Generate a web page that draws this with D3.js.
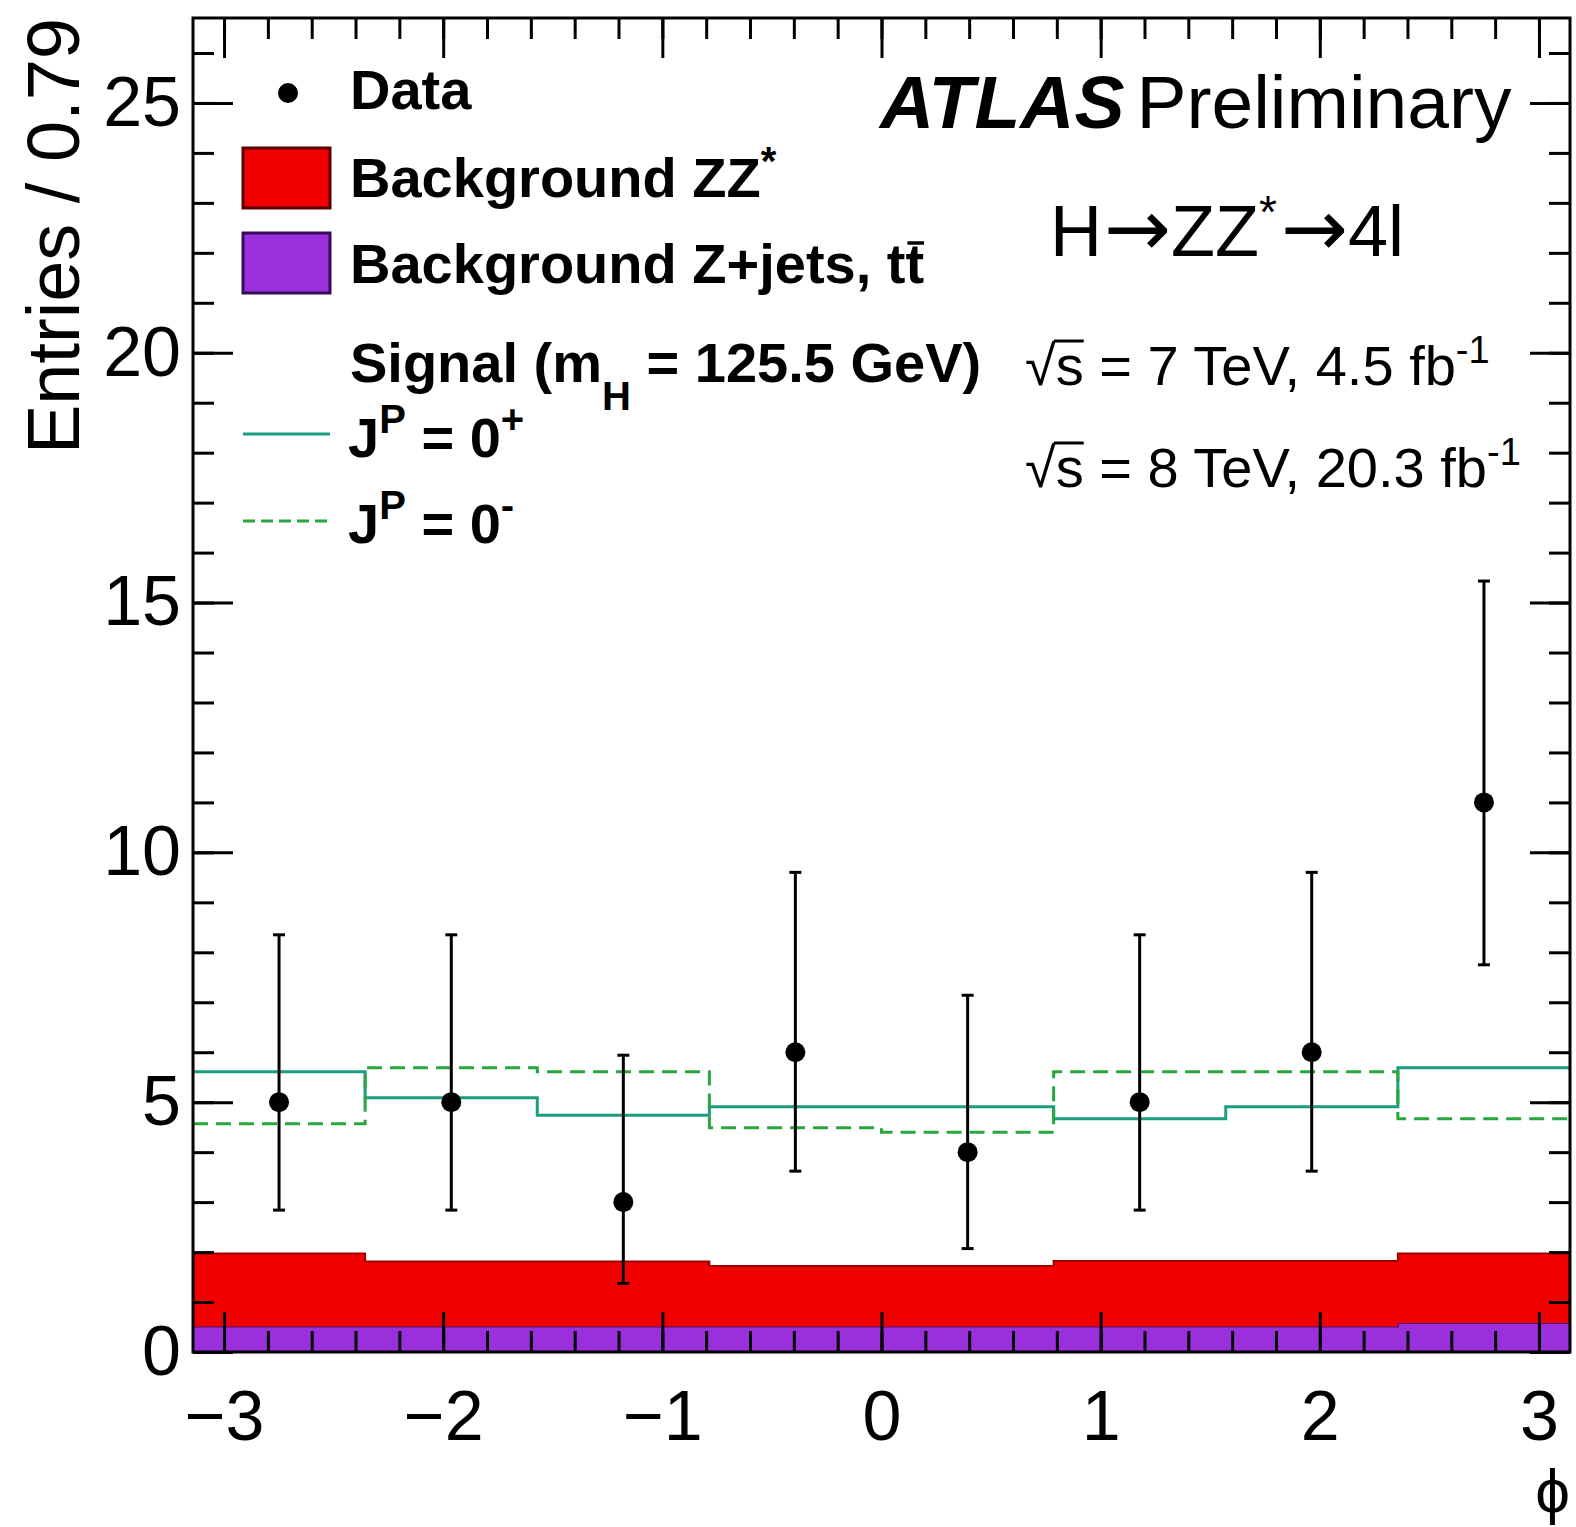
<!DOCTYPE html>
<html>
<head>
<meta charset="utf-8">
<script src="https://cdn.jsdelivr.net/npm/d3@7"></script>
<style>
  body { margin: 0; background: #fff; }
  svg text { font-family: "Liberation Sans", Arial, Helvetica, sans-serif; fill: #000; }
</style>
</head>
<body>
<div id="plot"></div>
<script>
// phi bins: 8 bins over [-pi, pi]
const binEdges = [-3.1416, -2.3562, -1.5708, -0.7854, 0, 0.7854, 1.5708, 2.3562, 3.1416];
const binCenters = [-2.749, -1.963, -1.178, -0.393, 0.393, 1.178, 1.963, 2.749];

// observed data with asymmetric (Poisson) errors
const dataCounts = [5, 5, 3, 6, 4, 5, 6, 11];
const dataLow = [2.84, 2.84, 1.37, 3.62, 2.07, 2.84, 3.62, 7.75];
const dataHigh = [8.35, 8.35, 5.94, 9.6, 7.14, 8.35, 9.6, 15.43];

// backgrounds (stacked: Z+jets at bottom, ZZ* on top)
const bkgZjets = [0.51, 0.51, 0.51, 0.51, 0.51, 0.51, 0.51, 0.58];
const bkgZZ = [1.46, 1.30, 1.30, 1.21, 1.21, 1.31, 1.31, 1.39];

// signal hypotheses
const sig0plus = [5.61, 5.09, 4.74, 4.91, 4.91, 4.67, 4.91, 5.69];
const sig0minus = [4.57, 5.69, 5.61, 4.49, 4.40, 5.61, 5.61, 4.67];

const W = 1576, H = 1527;
const margin = {left: 193, top: 18, right: 6, bottom: 175};
const pw = W - margin.left - margin.right;
const ph = H - margin.top - margin.bottom;

const svg = d3.select("#plot").append("svg")
    .attr("width", W).attr("height", H);

const g = svg.append("g").attr("transform", `translate(${margin.left},${margin.top})`);

let x = d3.scaleLinear().domain([binEdges[0], binEdges[8]]).range([0, pw]);
let y = d3.scaleLinear().domain([0, 26.7]).range([ph, 0]);

const red = "#f20000", purple = "#9a30dc";
const teal = "#1b9e80", green = "#2aa640";

// stacked backgrounds
let stackRows = binCenters.map((c, i) => ({zjets: bkgZjets[i], zz: bkgZZ[i]}));
let stacked = d3.stack().keys(["zjets", "zz"])(stackRows);

function stepArea(layer) {
    let pts = [];
    layer.forEach((d, i) => {
        pts.push({x0: binEdges[i], y0: d[0], y1: d[1]});
        pts.push({x0: binEdges[i + 1], y0: d[0], y1: d[1]});
    });
    return d3.area().x(p => x(p.x0)).y0(p => y(p.y0)).y1(p => y(p.y1))(pts);
}
function stepTop(vals) {
    let pts = [];
    vals.forEach((v, i) => { pts.push([binEdges[i], v]); pts.push([binEdges[i + 1], v]); });
    return d3.line().x(p => x(p[0])).y(p => y(p[1]))(pts);
}

g.append("path").attr("d", stepArea(stacked[0])).attr("fill", purple);
g.append("path").attr("d", stepTop(stacked[0].map(d => d[1])))
    .attr("fill", "none").attr("stroke", "#4a1070").attr("stroke-width", 2);
g.append("path").attr("d", stepArea(stacked[1])).attr("fill", red);
g.append("path").attr("d", stepTop(stacked[1].map(d => d[1])))
    .attr("fill", "none").attr("stroke", "#a00000").attr("stroke-width", 2);

// signal step lines
g.append("path").attr("d", stepTop(sig0plus))
    .attr("fill", "none").attr("stroke", teal).attr("stroke-width", 3);
g.append("path").attr("d", stepTop(sig0minus))
    .attr("fill", "none").attr("stroke", green).attr("stroke-width", 3)
    .attr("stroke-dasharray", "15,8");

// axes, ticks pointing inward
function addAxis(axis, tr, cls) {
    return g.append("g").attr("class", cls).attr("transform", tr).call(axis)
        .call(s => s.select(".domain").remove())
        .call(s => s.selectAll(".tick line").attr("stroke", "#000").attr("stroke-width", 3));
}
const fmt = d => d < 0 ? "\u2212" + Math.abs(d) : String(d);

let xb = addAxis(d3.axisBottom(x).tickValues(x.ticks(6)).tickSize(-40).tickPadding(38).tickFormat(fmt),
    `translate(0,${ph})`, "xmaj");
xb.selectAll("text").attr("font-size", 70).attr("fill", "#000");
addAxis(d3.axisBottom(x).tickValues(x.ticks(30)).tickSize(-21).tickFormat(""), `translate(0,${ph})`, "xmin");
addAxis(d3.axisTop(x).tickValues(x.ticks(6)).tickSize(-40).tickFormat(""), "translate(0,0)", "xtmaj");
addAxis(d3.axisTop(x).tickValues(x.ticks(30)).tickSize(-21).tickFormat(""), "translate(0,0)", "xtmin");

let yl = addAxis(d3.axisLeft(y).tickValues(y.ticks(5)).tickSize(-40).tickPadding(12), "translate(0,0)", "ymaj");
yl.selectAll("text").attr("font-size", 70).attr("fill", "#000");
addAxis(d3.axisLeft(y).tickValues(y.ticks(26)).tickSize(-21).tickFormat(""), "translate(0,0)", "ymin");
addAxis(d3.axisRight(y).tickValues(y.ticks(5)).tickSize(-40).tickFormat(""), `translate(${pw},0)`, "yrmaj");
addAxis(d3.axisRight(y).tickValues(y.ticks(26)).tickSize(-21).tickFormat(""), `translate(${pw},0)`, "yrmin");

// data points
let pts = g.append("g").selectAll("g").data(binCenters).join("g");
pts.append("line").attr("x1", (d) => x(d)).attr("x2", d => x(d))
    .attr("y1", (d, i) => y(dataLow[i])).attr("y2", (d, i) => y(dataHigh[i]))
    .attr("stroke", "#000").attr("stroke-width", 3);
[dataLow, dataHigh].forEach(arr => {
    pts.append("line").attr("x1", d => x(d) - 6).attr("x2", d => x(d) + 6)
        .attr("y1", (d, i) => y(arr[i])).attr("y2", (d, i) => y(arr[i]))
        .attr("stroke", "#000").attr("stroke-width", 3);
});
pts.append("circle").attr("cx", d => x(d)).attr("cy", (d, i) => y(dataCounts[i])).attr("r", 10).attr("fill", "#000");

// frame
g.append("rect").attr("width", pw).attr("height", ph)
    .attr("fill", "none").attr("stroke", "#000").attr("stroke-width", 3);

// axis titles
svg.append("text").attr("transform", "translate(79,18) rotate(-90)")
    .attr("text-anchor", "end").attr("font-size", 74).text("Entries / 0.79");
svg.append("text").attr("x", 1570).attr("y", 1512).attr("text-anchor", "end")
    .attr("font-size", 62).text("\u03d5");

// bar over one character of a text node (for t-bar and sqrt)
function barOver(textSel, idx, yy, extendLeft, width) {
    let node = textSel.node();
    let a = node.getStartPositionOfChar(idx).x - extendLeft;
    let b = node.getEndPositionOfChar(idx).x;
    svg.append("line").attr("x1", a).attr("x2", b).attr("y1", yy).attr("y2", yy)
        .attr("stroke", "#000").attr("stroke-width", width);
}

// legend
let leg = svg.append("g").attr("font-weight", "bold").attr("font-size", 56);
leg.append("circle").attr("cx", 288).attr("cy", 93).attr("r", 10).attr("fill", "#000");
leg.append("text").attr("x", 350).attr("y", 109).text("Data");
leg.append("rect").attr("x", 243).attr("y", 148).attr("width", 87).attr("height", 60)
    .attr("fill", red).attr("stroke", "#5a0000").attr("stroke-width", 3);
let t1 = leg.append("text").attr("x", 350).attr("y", 197).text("Background ZZ");
t1.append("tspan").attr("dy", -22).attr("font-size", 40).text("*");
leg.append("rect").attr("x", 243).attr("y", 233).attr("width", 87).attr("height", 60)
    .attr("fill", purple).attr("stroke", "#3a0a5a").attr("stroke-width", 3);
let t2 = leg.append("text").attr("x", 350).attr("y", 283).text("Background Z+jets, tt");
barOver(t2, 20, 283 - 40, -2, 3.5);
let t3 = leg.append("text").attr("x", 350).attr("y", 382).text("Signal (m");
t3.append("tspan").attr("dy", 28).attr("font-size", 40).text("H");
t3.append("tspan").attr("dy", -28).text(" = 125.5 GeV)");
leg.append("line").attr("x1", 243).attr("x2", 330).attr("y1", 434).attr("y2", 434)
    .attr("stroke", teal).attr("stroke-width", 3);
let t4 = leg.append("text").attr("x", 348).attr("y", 457).text("J");
t4.append("tspan").attr("dy", -24).attr("font-size", 40).text("P");
t4.append("tspan").attr("dy", 24).text(" = 0");
t4.append("tspan").attr("dy", -24).attr("font-size", 40).text("+");
leg.append("line").attr("x1", 243).attr("x2", 330).attr("y1", 521).attr("y2", 521)
    .attr("stroke", green).attr("stroke-width", 3).attr("stroke-dasharray", "12,6");
let t5 = leg.append("text").attr("x", 348).attr("y", 543).text("J");
t5.append("tspan").attr("dy", -24).attr("font-size", 40).text("P");
t5.append("tspan").attr("dy", 24).text(" = 0");
t5.append("tspan").attr("dy", -24).attr("font-size", 40).text("-");

// labels top right
let atl = svg.append("text").attr("x", 880).attr("y", 128).attr("font-size", 75);
atl.append("tspan").attr("font-weight", "bold").attr("font-style", "italic").text("ATLAS");
atl.append("tspan").attr("dx", 12).text("Preliminary");

let hz = svg.append("text").attr("x", 1050).attr("y", 256).attr("font-size", 72);
hz.append("tspan").text("H");
hz.append("tspan").attr("font-family", "DejaVu Sans").attr("font-size", 80).attr("dx", 2).text("\u2192");
hz.append("tspan").text("ZZ");
hz.append("tspan").attr("dy", -28).attr("font-size", 46).text("*");
hz.append("tspan").attr("dy", 28).attr("dx", 4).attr("font-family", "DejaVu Sans").attr("font-size", 80).text("\u2192");
hz.append("tspan").text("4l");

function sqrtLine(yy, rest, sup) {
    let t = svg.append("text").attr("x", 1025).attr("y", yy).attr("font-size", 56);
    t.append("tspan").text("\u221as");
    t.append("tspan").text(rest);
    t.append("tspan").attr("dy", -22).attr("font-size", 38).text(sup);
    barOver(t, 1, yy - 44, 2, 3);
}
sqrtLine(385, " = 7 TeV, 4.5 fb", "-1");
sqrtLine(487, " = 8 TeV, 20.3 fb", "-1");
</script>
</body>
</html>
